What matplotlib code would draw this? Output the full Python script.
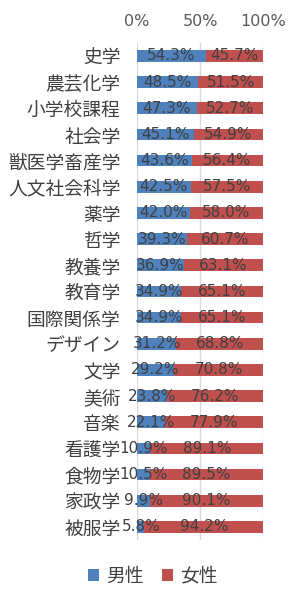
import numpy as np
from matplotlib import pyplot as plt
from matplotlib.ticker import PercentFormatter

plt.rcParams['font.family'] = ['Noto Sans CJK JP', 'DejaVu Sans']

majors = ["史学", "農芸化学", "小学校課程", "社会学", "獣医学畜産学", "人文社会科学",
          "薬学", "哲学", "教養学", "教育学", "国際関係学", "デザイン", "文学",
          "美術", "音楽", "看護学", "食物学", "家政学", "被服学"]
male = [54.3, 48.5, 47.3, 45.1, 43.6, 42.5, 42.0, 39.3, 36.9, 34.9, 34.9,
        31.2, 29.2, 23.8, 22.1, 10.9, 10.5, 9.9, 5.8]
female = [45.7, 51.5, 52.7, 54.9, 56.4, 57.5, 58.0, 60.7, 63.1, 65.1, 65.1,
          68.8, 70.8, 76.2, 77.9, 89.1, 89.5, 90.1, 94.2]

c_male = "#4F81BD"
c_female = "#C0504D"
txt = "#404040"

fig = plt.figure(figsize=(3.0, 5.99), dpi=100)
ax = fig.add_axes([0.457, 0.0985, 0.42, 0.83])

y = np.arange(len(majors))
h = 0.44
b1 = ax.barh(y, male, height=h, color=c_male, label="男性", zorder=2)
b2 = ax.barh(y, female, left=male, height=h, color=c_female, label="女性", zorder=2)
for bars in (b1, b2):
    ax.bar_label(bars, labels=["%.1f%%" % b.get_width() for b in bars],
                 label_type="center", color=txt, fontsize=11,
                 family=['DejaVu Sans'], zorder=3)

ax.set_xlim(0, 100)
ax.set_ylim(len(majors) - 0.5, -0.5)
ax.set_yticks(y)
ax.set_yticklabels(majors, fontsize=13.5, color=txt)
ax.set_xticks([0, 50, 100])
ax.xaxis.set_major_formatter(PercentFormatter(decimals=0))
ax.xaxis.tick_top()
ax.tick_params(axis="x", labelsize=11.5, labelcolor="#595959", length=0, pad=10)
ax.tick_params(axis="y", length=0, pad=12)
for lab in ax.get_xticklabels():
    lab.set_family(['DejaVu Sans'])
ax.grid(axis="x", color="#D9D9D9", lw=1, zorder=0)
for s in ax.spines.values():
    s.set_visible(False)

fig.legend(handles=[b1, b2], loc="center", bbox_to_anchor=(0.51, 0.038),
           ncol=2, frameon=False, fontsize=13.5, handlelength=0.55,
           handleheight=0.55, handletextpad=0.4, columnspacing=1.0,
           labelcolor=txt)

fig.savefig("out.png", dpi=100)
